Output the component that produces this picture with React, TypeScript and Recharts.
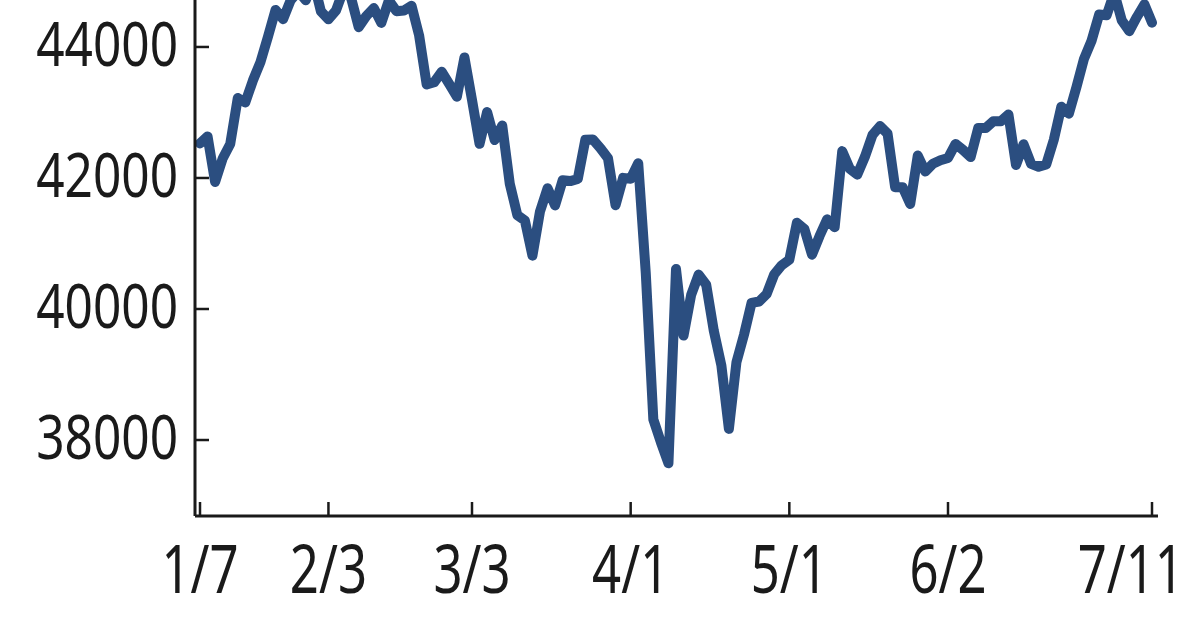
import { Line, LineChart, XAxis, YAxis } from "recharts";

// trading days, 2025
const DATES = [
  "1/7", "1/8", "1/10", "1/13", "1/14", "1/15", "1/16", "1/17", "1/21", "1/22", "1/23", "1/24", "1/27", "1/28", "1/29", "1/30", "1/31",
  "2/3", "2/4", "2/5", "2/6", "2/7", "2/10", "2/11", "2/12", "2/13", "2/14", "2/18", "2/19", "2/20", "2/21", "2/24", "2/25", "2/26", "2/27", "2/28",
  "3/3", "3/4", "3/5", "3/6", "3/7", "3/10", "3/11", "3/12", "3/13", "3/14", "3/17", "3/18", "3/19", "3/20", "3/21", "3/24", "3/25", "3/26", "3/27", "3/28", "3/31",
  "4/1", "4/2", "4/3", "4/4", "4/7", "4/8", "4/9", "4/10", "4/11", "4/14", "4/15", "4/16", "4/17", "4/21", "4/22", "4/23", "4/24", "4/25", "4/28", "4/29", "4/30",
  "5/1", "5/2", "5/5", "5/6", "5/7", "5/8", "5/9", "5/12", "5/13", "5/14", "5/15", "5/16", "5/19", "5/20", "5/21", "5/22", "5/23", "5/27", "5/28", "5/29", "5/30",
  "6/2", "6/3", "6/4", "6/5", "6/6", "6/9", "6/10", "6/11", "6/12", "6/13", "6/16", "6/17", "6/18", "6/20", "6/23", "6/24", "6/25", "6/26", "6/27", "6/30",
  "7/1", "7/2", "7/3", "7/7", "7/8", "7/9", "7/10", "7/11",
];

const CLOSES = [
  42528, 42635, 41938, 42297, 42518, 43221, 43153, 43488, 43768, 44157, 44566, 44424, 44714, 44850, 44714, 45014, 44545,
  44422, 44556, 44873, 44748, 44303, 44471, 44594, 44368, 44711, 44546, 44556, 44628, 44177, 43428, 43461, 43621, 43433, 43240, 43841,
  43191, 42521, 43007, 42579, 42802, 41912, 41433, 41350, 40814, 41489, 41842, 41582, 41965, 41953, 41985, 42583, 42588, 42455, 42300, 41584, 42002,
  41989, 42226, 40546, 38315, 37966, 37646, 40609, 39594, 40213, 40525, 40369, 39669, 39142, 38170, 39187, 39607, 40093, 40114, 40228, 40528, 40669,
  40753, 41317, 41219, 40829, 41114, 41368, 41249, 42410, 42140, 42051, 42323, 42655, 42792, 42677, 41860, 41859, 41603, 42343, 42098, 42216, 42270,
  42305, 42520, 42427, 42319, 42763, 42762, 42867, 42866, 42968, 42198, 42515, 42216, 42172, 42207, 42582, 43089, 42982, 43387, 43819, 44095,
  44495, 44484, 44829, 44406, 44241, 44458, 44651, 44371,
];

const X_TICKS = ["1/7", "2/3", "3/3", "4/1", "5/1", "6/2", "7/11"];
const Y_TICKS = [38000, 40000, 42000, 44000];

const data = DATES.map((date, i) => ({ date, close: CLOSES[i] }));

const AXIS_X = 195;
const AXIS_Y = 516;
const TICK_LEN = 14;
const INK = "#1a1a1a";
const LINE_BLUE = "#2b4e80";
const FONT = "'Noto Sans', 'DejaVu Sans', sans-serif";

function YTick({ y, payload }: any) {
  return (
    <g>
      <line x1={AXIS_X} x2={AXIS_X + TICK_LEN} y1={y} y2={y} stroke={INK} strokeWidth={2.5} />
      <text
        transform={`translate(178,${y - 3}) scale(0.8,1)`}
        dy="0.36em"
        textAnchor="end"
        fontSize={62}
        fontFamily={FONT}
        fill={INK}
      >
        {payload.value}
      </text>
    </g>
  );
}

function XTick({ x, payload }: any) {
  // last label is pulled inside the picture, as in the source
  const last = payload.value === X_TICKS[X_TICKS.length - 1];
  const tx = last ? 1184 : x;
  return (
    <g>
      <line x1={x} x2={x} y1={AXIS_Y - TICK_LEN} y2={AXIS_Y} stroke={INK} strokeWidth={2.5} />
      <text
        transform={`translate(${tx},593) scale(0.76,1)`}
        textAnchor={last ? "end" : "middle"}
        fontSize={67}
        fontFamily={FONT}
        fill={INK}
      >
        {payload.value}
      </text>
    </g>
  );
}

export default function App() {
  return (
    <div style={{ position: "fixed", left: 0, top: 0, width: 1200, height: 630, background: "#fff" }}>
      <LineChart
        width={1200}
        height={630}
        data={data}
        margin={{ top: 0, right: 42, bottom: 0, left: 0 }}
      >
        <XAxis
          dataKey="date"
          ticks={X_TICKS}
          interval={0}
          height={114}
          padding={{ left: 5, right: 6 }}
          tickLine={false}
          axisLine={{ stroke: INK, strokeWidth: 3 }}
          tick={<XTick />}
        />
        <YAxis
          type="number"
          domain={[36840, 44717]}
          ticks={Y_TICKS}
          allowDataOverflow
          width={195}
          tickLine={false}
          axisLine={{ stroke: INK, strokeWidth: 3 }}
          tick={<YTick />}
        />
        <Line
          type="linear"
          dataKey="close"
          stroke={LINE_BLUE}
          strokeWidth={10}
          strokeLinejoin="round"
          strokeLinecap="round"
          dot={false}
          isAnimationActive={false}
        />
      </LineChart>
    </div>
  );
}
